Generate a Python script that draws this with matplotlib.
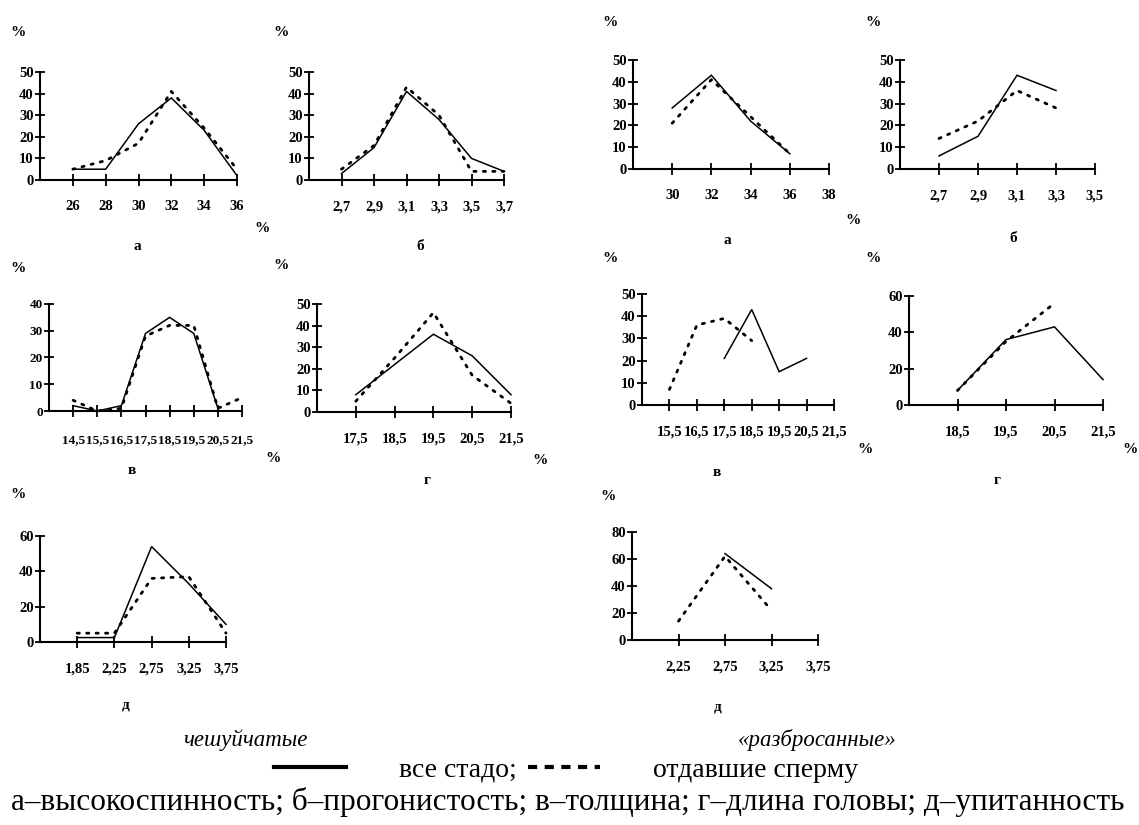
import matplotlib.pyplot as plt
import numpy as np
from matplotlib.lines import Line2D

plt.rcParams['font.family'] = ['Liberation Serif', 'DejaVu Serif']

W, H = 1139, 825
nan = np.nan

# ---------------- чешуйчатые (left block) ----------------
la_cats = ['26', '28', '30', '32', '34', '36']
la_all = [5, 5, 26, 38, 23, 2]
la_sperm = [5, 9, 17, 41, 24, 5]

lb_cats = ['2,7', '2,9', '3,1', '3,3', '3,5', '3,7']
lb_all = [3, 15, 41, 28, 10, 4]
lb_sperm = [5, 16, 43, 30, 4, 4]

lv_cats = ['14,5', '15,5', '16,5', '17,5', '18,5', '19,5', '20,5', '21,5']
lv_all = [2, 0, 2, 29, 35, 29, 1, nan]
lv_sperm = [4, 0, 1, 28, 32, 32, 1, 5]

lg_cats = ['17,5', '18,5', '19,5', '20,5', '21,5']
lg_all = [8, 22, 36, 26, 8]
lg_sperm = [5, 25, 46, 17, 4]

ld_cats = ['1,85', '2,25', '2,75', '3,25', '3,75']
ld_all = [2.5, 2.5, 54, 33, 10]
ld_sperm = [5, 5, 36, 37, 5]

# ---------------- «разбросанные» (right block) ----------------
ra_cats = ['30', '32', '34', '36', '38']
ra_all = [28, 43, 22, 7, nan]
ra_sperm = [21, 41, 24, 7, nan]

rb_cats = ['2,7', '2,9', '3,1', '3,3', '3,5']
rb_all = [6, 15, 43, 36, nan]
rb_sperm = [14, 22, 36, 28, nan]

rv_cats = ['15,5', '16,5', '17,5', '18,5', '19,5', '20,5', '21,5']
rv_all = [nan, nan, 21, 43, 15, 21, nan]
rv_sperm = [7, 36, 39, 29, nan, nan, nan]

rg_cats = ['18,5', '19,5', '20,5', '21,5']
rg_all = [8, 36, 43, 14]
rg_sperm = [8, 35, 56, nan]

rd_cats = ['2,25', '2,75', '3,25', '3,75']
rd_all = [nan, 64, 38, nan]
rd_sperm = [14, 62, 22, nan]


def px_box(x0, x1, ytop, ybot):
    return [x0 / W, 1 - ybot / H, (x1 - x0) / W, (ybot - ytop) / H]


def ftext(x, y, s, **kw):
    fig.text(x / W, 1 - y / H, s, ha='center', va='center', **kw)


fig = plt.figure(figsize=(W / 100, H / 100), dpi=100)


def panel(box, cats, all_vals, sperm_vals, yticks, pad=10, fs=10.5):
    ax = fig.add_axes(px_box(*box))
    x = np.arange(len(cats))
    ax.plot(x, np.array(all_vals, float), color='black', lw=1.1,
            solid_joinstyle='miter', clip_on=False)
    ax.plot(x, np.array(sperm_vals, float), color='black', lw=2.0,
            linestyle=(0, (0.8, 2.6)), dash_capstyle='round', clip_on=False)
    ax.set_xlim(-1, len(cats) - 1)
    ax.set_ylim(0, yticks[-1])
    ax.set_xticks(x)
    ax.set_xticklabels(cats)
    ax.set_yticks(yticks)
    for s in ['top', 'right']:
        ax.spines[s].set_visible(False)
    for s in ['left', 'bottom']:
        ax.spines[s].set_linewidth(1.5)
    ax.tick_params(axis='x', direction='inout', length=9, width=1.3, pad=pad,
                   labelsize=fs)
    ax.tick_params(axis='y', direction='inout', length=7, width=1.3, pad=1,
                   labelsize=fs)
    for lab in ax.get_xticklabels() + ax.get_yticklabels():
        lab.set_fontweight('bold')
    ax.patch.set_alpha(0)
    return ax


# left block
panel((40, 237, 72, 180), la_cats, la_all, la_sperm, [0, 10, 20, 30, 40, 50])
panel((309, 504, 72, 180), lb_cats, lb_all, lb_sperm, [0, 10, 20, 30, 40, 50])
panel((49, 242, 304, 411), lv_cats, lv_all, lv_sperm, [0, 10, 20, 30, 40],
      pad=12, fs=9.5)
panel((317, 511, 304, 412), lg_cats, lg_all, lg_sperm, [0, 10, 20, 30, 40, 50])
panel((40, 226, 536, 642), ld_cats, ld_all, ld_sperm, [0, 20, 40, 60])

# right block
panel((633, 829, 60, 169), ra_cats, ra_all, ra_sperm, [0, 10, 20, 30, 40, 50])
panel((900, 1095, 60, 169), rb_cats, rb_all, rb_sperm, [0, 10, 20, 30, 40, 50])
panel((642, 834, 294, 405), rv_cats, rv_all, rv_sperm, [0, 10, 20, 30, 40, 50])
panel((909, 1103, 296, 405), rg_cats, rg_all, rg_sperm, [0, 20, 40, 60])
panel((632, 818, 532, 640), rd_cats, rd_all, rd_sperm, [0, 20, 40, 60, 80])

# "%" unit marks
for (x, y) in [(18, 33), (281, 33), (262, 229), (610, 22), (873, 22), (853, 220),
               (18, 268), (281, 265), (273, 459), (540, 460),
               (610, 258), (873, 258), (865, 450), (1130, 450),
               (18, 495), (608, 497)]:
    ftext(x, y, '%', fontsize=11, fontweight='bold')

# panel letters
for (x, y, s) in [(137, 247, 'а'), (420, 247, 'б'), (727, 240, 'а'), (1013, 238, 'б'),
                  (132, 471, 'в'), (427, 480, 'г'), (717, 473, 'в'), (997, 480, 'г'),
                  (126, 705, 'д'), (718, 707, 'д')]:
    ftext(x, y, s, fontsize=11, fontweight='bold')

# group captions
ftext(246, 740, 'чешуйчатые', fontsize=16.5, style='italic')
ftext(817, 740, '«разбросанные»', fontsize=16.5, style='italic')

# legend
handles = [Line2D([], [], color='black', lw=3),
           Line2D([], [], color='black', lw=3, linestyle=(0, (2.2, 1.8)))]
fig.legend(handles, ['все стадо;', 'отдавшие сперму'], ncol=2, frameon=False,
           loc='center', bbox_to_anchor=(566 / W, 1 - 770 / H),
           fontsize=20, handlelength=2.6, handletextpad=1.9, columnspacing=0.4)

ftext(568, 802, 'а–высокоспинность; б–прогонистость; в–толщина; г–длина головы; д–упитанность',
      fontsize=22.5)

fig.savefig('out.png', dpi=100)
